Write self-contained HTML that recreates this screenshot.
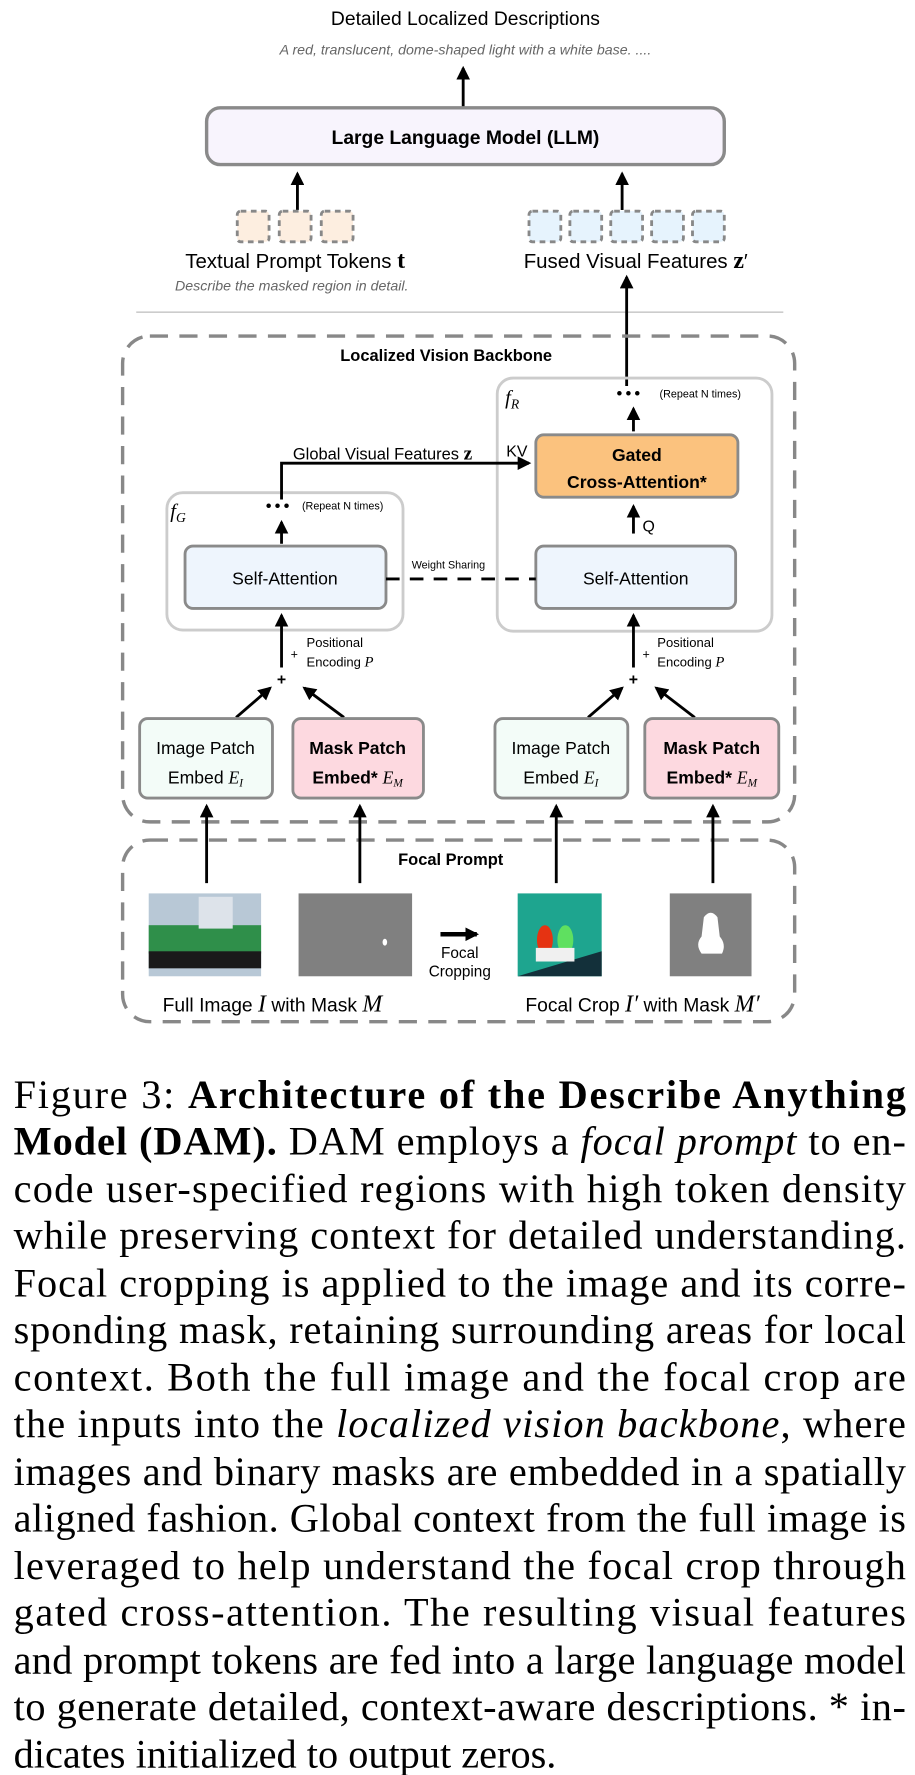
<!DOCTYPE html>
<html><head><meta charset="utf-8"><style>
html,body{margin:0;padding:0;background:#fff;}
svg{display:block;}
</style></head><body>
<svg width="915" height="1775" viewBox="0 0 806 1563.6" preserveAspectRatio="none" xmlns="http://www.w3.org/2000/svg">
<defs>
<marker id="b" markerWidth="12" markerHeight="12" refX="10" refY="6" orient="auto" markerUnits="userSpaceOnUse"><path d="M0,0 L12,6 L0,12 Z" fill="#000"/></marker>
</defs>
<g font-family="Liberation Sans">
<text x="410" y="22" font-size="17" text-anchor="middle">Detailed Localized Descriptions</text>
<text x="410" y="48" font-size="12.5" font-style="italic" fill="#666" text-anchor="middle">A red, translucent, dome-shaped light with a white base. ....</text>
</g>
<line x1="408" y1="98" x2="408" y2="60" stroke="#000" stroke-width="2.5" marker-end="url(#b)"/>
<rect x="182" y="95" width="456" height="50" rx="12" fill="#f8f4fd" stroke="#8a8a8a" stroke-width="3"/>
<text x="410" y="127" font-size="17" font-weight="bold" text-anchor="middle" font-family="Liberation Sans">Large Language Model (LLM)</text>
<line x1="262" y1="185" x2="262" y2="153" stroke="#000" stroke-width="2.5" marker-end="url(#b)"/>
<line x1="548" y1="185" x2="548" y2="153" stroke="#000" stroke-width="2.5" marker-end="url(#b)"/>
<g stroke="#888" stroke-width="2.5" stroke-dasharray="5,4">
<rect x="209" y="186" width="28" height="27" rx="3" fill="#fdeee0"/>
<rect x="246" y="186" width="28" height="27" rx="3" fill="#fdeee0"/>
<rect x="283" y="186" width="28" height="27" rx="3" fill="#fdeee0"/>
<rect x="466" y="186" width="28" height="27" rx="3" fill="#e6f3fd"/>
<rect x="502" y="186" width="28" height="27" rx="3" fill="#e6f3fd"/>
<rect x="538" y="186" width="28" height="27" rx="3" fill="#e6f3fd"/>
<rect x="574" y="186" width="28" height="27" rx="3" fill="#e6f3fd"/>
<rect x="610" y="186" width="28" height="27" rx="3" fill="#e6f3fd"/>
</g>
<text x="260" y="236" font-size="18" text-anchor="middle" font-family="Liberation Sans">Textual Prompt Tokens <tspan font-family="Liberation Serif" font-weight="bold" font-size="21">t</tspan></text>
<text x="257" y="256" font-size="12.5" font-style="italic" fill="#666" text-anchor="middle" font-family="Liberation Sans">Describe the masked region in detail.</text>
<text x="560" y="236" font-size="18" text-anchor="middle" font-family="Liberation Sans">Fused Visual Features <tspan font-family="Liberation Serif" font-weight="bold" font-size="21">z</tspan>′</text>
<line x1="120" y1="275" x2="690" y2="275" stroke="#ccc" stroke-width="1.5"/>
<line x1="552" y1="340" x2="552" y2="244" stroke="#000" stroke-width="2.5" marker-end="url(#b)"/>

<rect x="108" y="296" width="592" height="428" rx="24" fill="none" stroke="#888" stroke-width="3" stroke-dasharray="16,10"/>
<text x="393" y="318" font-size="14.5" font-weight="bold" text-anchor="middle" font-family="Liberation Sans">Localized Vision Backbone</text>

<rect x="438" y="333" width="242" height="223" rx="14" fill="none" stroke="#ccc" stroke-width="2.5"/>
<text x="445" y="356" font-size="18" font-style="italic" font-family="Liberation Serif">f<tspan font-size="12" dy="4">R</tspan></text>
<text x="555" y="351" font-size="14" font-weight="bold" text-anchor="middle" font-family="Liberation Sans" letter-spacing="3">•••</text>
<text x="581" y="350" font-size="9.5" font-family="Liberation Sans">(Repeat N times)</text>
<line x1="558" y1="380" x2="558" y2="360" stroke="#000" stroke-width="2.5" marker-end="url(#b)"/>
<rect x="472" y="383" width="178" height="55" rx="7" fill="#fbc27e" stroke="#8a8a8a" stroke-width="2.5"/>
<text x="561" y="406" font-size="15.5" font-weight="bold" text-anchor="middle" font-family="Liberation Sans">Gated</text>
<text x="561" y="430" font-size="15.5" font-weight="bold" text-anchor="middle" font-family="Liberation Sans">Cross-Attention*</text>
<line x1="558" y1="470" x2="558" y2="446" stroke="#000" stroke-width="2.5" marker-end="url(#b)"/>
<text x="566" y="468" font-size="14" font-family="Liberation Sans">Q</text>
<text x="446" y="402" font-size="14" font-family="Liberation Sans">KV</text>

<rect x="147" y="434" width="208" height="121" rx="14" fill="none" stroke="#ccc" stroke-width="2.5"/>
<text x="150" y="456" font-size="18" font-style="italic" font-family="Liberation Serif">f<tspan font-size="12" dy="4">G</tspan></text>
<text x="246" y="450" font-size="14" font-weight="bold" text-anchor="middle" font-family="Liberation Sans" letter-spacing="3">•••</text>
<text x="266" y="449" font-size="9.5" font-family="Liberation Sans">(Repeat N times)</text>
<line x1="248" y1="479" x2="248" y2="460" stroke="#000" stroke-width="2.5" marker-end="url(#b)"/>
<polyline points="248,440 248,408 466,408" fill="none" stroke="#000" stroke-width="2.5" marker-end="url(#b)"/>
<text x="258" y="405" font-size="14.5" font-family="Liberation Sans">Global Visual Features <tspan font-family="Liberation Serif" font-weight="bold" font-size="17">z</tspan></text>

<rect x="163" y="481" width="177" height="55" rx="7" fill="#eef5fd" stroke="#8a8a8a" stroke-width="2.5"/>
<text x="251" y="515" font-size="15.5" text-anchor="middle" font-family="Liberation Sans">Self-Attention</text>
<rect x="472" y="481" width="176" height="55" rx="7" fill="#eef5fd" stroke="#8a8a8a" stroke-width="2.5"/>
<text x="560" y="515" font-size="15.5" text-anchor="middle" font-family="Liberation Sans">Self-Attention</text>
<line x1="340" y1="510" x2="472" y2="510" stroke="#000" stroke-width="2.5" stroke-dasharray="12,9"/>
<text x="395" y="501" font-size="9.5" text-anchor="middle" font-family="Liberation Sans">Weight Sharing</text>

<g font-family="Liberation Sans">
<line x1="248" y1="588" x2="248" y2="542" stroke="#000" stroke-width="2.5" marker-end="url(#b)"/>
<text x="248" y="603" font-size="14" font-weight="bold" text-anchor="middle">+</text>
<text x="256" y="580" font-size="11">+</text>
<text x="270" y="570" font-size="11.5">Positional</text>
<text x="270" y="587" font-size="11.5">Encoding <tspan font-family="Liberation Serif" font-style="italic" font-size="13">P</tspan></text>
<line x1="208" y1="632" x2="238" y2="606" stroke="#000" stroke-width="2.5" marker-end="url(#b)"/>
<line x1="303" y1="632" x2="268" y2="606" stroke="#000" stroke-width="2.5" marker-end="url(#b)"/>

<line x1="558" y1="588" x2="558" y2="542" stroke="#000" stroke-width="2.5" marker-end="url(#b)"/>
<text x="558" y="603" font-size="14" font-weight="bold" text-anchor="middle">+</text>
<text x="566" y="580" font-size="11">+</text>
<text x="579" y="570" font-size="11.5">Positional</text>
<text x="579" y="587" font-size="11.5">Encoding <tspan font-family="Liberation Serif" font-style="italic" font-size="13">P</tspan></text>
<line x1="518" y1="632" x2="548" y2="606" stroke="#000" stroke-width="2.5" marker-end="url(#b)"/>
<line x1="612" y1="632" x2="578" y2="606" stroke="#000" stroke-width="2.5" marker-end="url(#b)"/>

<rect x="123" y="633" width="117" height="70" rx="7" fill="#f3fcf8" stroke="#8a8a8a" stroke-width="2.5"/>
<text x="181" y="664" font-size="15.5" text-anchor="middle">Image Patch</text>
<text x="181" y="690" font-size="15.5" text-anchor="middle">Embed <tspan font-family="Liberation Serif" font-style="italic">E<tspan font-size="10" dy="3">I</tspan></tspan></text>
<rect x="258" y="633" width="115" height="70" rx="7" fill="#fdd9e0" stroke="#8a8a8a" stroke-width="2.5"/>
<text x="315" y="664" font-size="15.5" font-weight="bold" text-anchor="middle">Mask Patch</text>
<text x="315" y="690" font-size="15.5" font-weight="bold" text-anchor="middle">Embed* <tspan font-family="Liberation Serif" font-style="italic" font-weight="normal">E<tspan font-size="10" dy="3">M</tspan></tspan></text>
<rect x="436" y="633" width="117" height="70" rx="7" fill="#f3fcf8" stroke="#8a8a8a" stroke-width="2.5"/>
<text x="494" y="664" font-size="15.5" text-anchor="middle">Image Patch</text>
<text x="494" y="690" font-size="15.5" text-anchor="middle">Embed <tspan font-family="Liberation Serif" font-style="italic">E<tspan font-size="10" dy="3">I</tspan></tspan></text>
<rect x="568" y="633" width="118" height="70" rx="7" fill="#fdd9e0" stroke="#8a8a8a" stroke-width="2.5"/>
<text x="627" y="664" font-size="15.5" font-weight="bold" text-anchor="middle">Mask Patch</text>
<text x="627" y="690" font-size="15.5" font-weight="bold" text-anchor="middle">Embed* <tspan font-family="Liberation Serif" font-style="italic" font-weight="normal">E<tspan font-size="10" dy="3">M</tspan></tspan></text>
</g>

<rect x="108" y="740" width="592" height="160" rx="24" fill="none" stroke="#888" stroke-width="3" stroke-dasharray="16,10"/>
<text x="397" y="762" font-size="14.5" font-weight="bold" text-anchor="middle" font-family="Liberation Sans">Focal Prompt</text>
<g stroke="#000" stroke-width="2.5">
<line x1="182" y1="778" x2="182" y2="710" marker-end="url(#b)"/>
<line x1="317" y1="778" x2="317" y2="710" marker-end="url(#b)"/>
<line x1="490" y1="778" x2="490" y2="710" marker-end="url(#b)"/>
<line x1="628" y1="778" x2="628" y2="710" marker-end="url(#b)"/>
<line x1="388" y1="823" x2="420" y2="823" stroke-width="4" marker-end="url(#b)"/>
</g>
<rect x="131" y="787" width="99" height="73" fill="#b8c8d6"/>
<rect x="131" y="815" width="99" height="25" fill="#2f8f4a"/>
<rect x="131" y="838" width="99" height="15" fill="#1a1a1a"/>
<rect x="175" y="790" width="30" height="28" fill="#dde3ea"/>
<rect x="263" y="787" width="100" height="73" fill="#808080"/>
<ellipse cx="339" cy="830" rx="2" ry="3" fill="#fff"/>
<rect x="456" y="787" width="74" height="73" fill="#1ea58f"/>
<polygon points="456,860 530,838 530,860" fill="#13303a"/>
<ellipse cx="480" cy="828" rx="7" ry="13" fill="#e53312"/>
<ellipse cx="498" cy="828" rx="7" ry="13" fill="#5fe060"/>
<rect x="472" y="835" width="34" height="12" fill="#f0f0f0"/>
<rect x="590" y="787" width="72" height="73" fill="#808080"/>
<path d="M620,808 Q626,800 632,808 L634,825 Q640,832 636,840 L618,840 Q612,832 618,825 Z" fill="#fff"/>
<g font-family="Liberation Sans">
<text x="405" y="844" font-size="13.5" text-anchor="middle">Focal</text>
<text x="405" y="860" font-size="13.5" text-anchor="middle">Cropping</text>
<text x="240" y="891" font-size="17" text-anchor="middle">Full Image <tspan font-family="Liberation Serif" font-style="italic" font-size="21">I</tspan> with Mask <tspan font-family="Liberation Serif" font-style="italic" font-size="21">M</tspan></text>
<text x="566" y="891" font-size="17" text-anchor="middle">Focal Crop <tspan font-family="Liberation Serif" font-style="italic" font-size="21">I′</tspan> with Mask <tspan font-family="Liberation Serif" font-style="italic" font-size="21">M′</tspan></text>
</g>

<g font-family="Liberation Serif" font-size="35.5" fill="#000">
<text x="12" y="976" textLength="786" lengthAdjust="spacing">Figure 3: <tspan font-weight="bold">Architecture of the Describe Anything</tspan></text>
<text x="12" y="1017" textLength="786" lengthAdjust="spacing"><tspan font-weight="bold">Model (DAM).</tspan> DAM employs a <tspan font-style="italic">focal prompt</tspan> to en-</text>
<text x="12" y="1059" textLength="786" lengthAdjust="spacing">code user-specified regions with high token density</text>
<text x="12" y="1100" textLength="786" lengthAdjust="spacing">while preserving context for detailed understanding.</text>
<text x="12" y="1142" textLength="786" lengthAdjust="spacing">Focal cropping is applied to the image and its corre-</text>
<text x="12" y="1183" textLength="786" lengthAdjust="spacing">sponding mask, retaining surrounding areas for local</text>
<text x="12" y="1225" textLength="786" lengthAdjust="spacing">context. Both the full image and the focal crop are</text>
<text x="12" y="1266" textLength="786" lengthAdjust="spacing">the inputs into the <tspan font-style="italic">localized vision backbone</tspan>, where</text>
<text x="12" y="1308" textLength="786" lengthAdjust="spacing">images and binary masks are embedded in a spatially</text>
<text x="12" y="1349" textLength="786" lengthAdjust="spacing">aligned fashion. Global context from the full image is</text>
<text x="12" y="1391" textLength="786" lengthAdjust="spacing">leveraged to help understand the focal crop through</text>
<text x="12" y="1432" textLength="786" lengthAdjust="spacing">gated cross-attention. The resulting visual features</text>
<text x="12" y="1474" textLength="786" lengthAdjust="spacing">and prompt tokens are fed into a large language model</text>
<text x="12" y="1515" textLength="786" lengthAdjust="spacing">to generate detailed, context-aware descriptions. * in-</text>
<text x="12" y="1557">dicates initialized to output zeros.</text>
</g>
</svg>
</body></html>
